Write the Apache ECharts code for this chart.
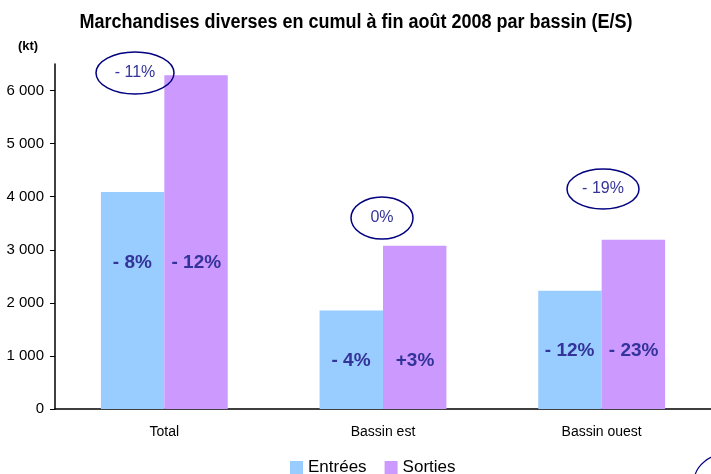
<!DOCTYPE html>
<html>
<head>
<meta charset="utf-8">
<script src="https://cdn.jsdelivr.net/npm/echarts@6/dist/echarts.min.js"></script>
<style>
  html, body { margin: 0; padding: 0; background: #fff; }
  #main { width: 711px; height: 474px; }
</style>
</head>
<body>
<div id="main"></div>
<script>
const categories = ['Total', 'Bassin est', 'Bassin ouest']
const entrees = [4090, 1855, 2230]
const sorties = [6290, 3075, 3190]
const entreesEvol = ['- 8%', '- 4%', '- 12%']
const sortiesEvol = ['- 12%', '+3%', '- 23%']
const totalEvol = ['- 11%', '0%', '- 19%']
const yTicks = [0, 1000, 2000, 3000, 4000, 5000, 6000]

const fmt = v => String(v).replace(/\B(?=(\d{3})+(?!\d))/g, ' ')

// positions des libellés dans les barres (en valeur d'axe)
const labelPos = [2750, 900, 1100]

const font = 'Liberation Sans, Arial, sans-serif'
const chart = echarts.init(document.getElementById('main'))

const option = {
  animation: false,
  textStyle: { fontFamily: font },
  legend: {
    top: 454,
    left: 285,
    itemWidth: 13,
    itemHeight: 13,
    itemGap: 18,
    icon: 'rect',
    textStyle: { fontSize: 17, color: '#000' },
    data: ['Entrées', 'Sorties']
  },
  grid: { left: 55, right: 0, top: 64, bottom: 65 },
  xAxis: {
    type: 'category',
    data: categories,
    axisLine: { lineStyle: { color: '#000', width: 1.5 } },
    axisTick: { show: false },
    axisLabel: { fontSize: 14, color: '#000', margin: 16 }
  },
  yAxis: {
    type: 'value',
    min: 0,
    max: 6500,
    interval: 1000,
    axisLine: { show: true, lineStyle: { color: '#000', width: 1.5 } },
    axisTick: { show: true, length: 5, customValues: yTicks, lineStyle: { color: '#000' } },
    axisLabel: { fontSize: 15, color: '#000', margin: 11, customValues: yTicks, formatter: fmt },
    splitLine: { show: false }
  },
  series: [
    {
      name: 'Entrées',
      type: 'bar',
      data: entrees,
      barGap: 0,
      barCategoryGap: '42%',
      itemStyle: { color: '#99CCFF' }
    },
    {
      name: 'Sorties',
      type: 'bar',
      data: sorties,
      itemStyle: { color: '#CC99FF' }
    }
  ]
}

chart.setOption(option)

// titre, unité, libellés dans les barres et ellipses
function drawNotes() {
  const g = []
  g.push({
    type: 'text', x: 356, y: 22, scaleX: 0.9,
    style: { text: 'Marchandises diverses en cumul à fin août 2008 par bassin (E/S)', fontSize: 20, fontWeight: 'bold', fill: '#000', align: 'center', verticalAlign: 'middle', fontFamily: font }
  })
  g.push({
    type: 'text', x: 28, y: 46,
    style: { text: '(kt)', fontSize: 13, fontWeight: 'bold', fill: '#000', align: 'center', verticalAlign: 'middle', fontFamily: font }
  })
  const half = 32
  categories.forEach((c, i) => {
    const cx = chart.convertToPixel({ xAxisIndex: 0 }, c)
    const ly = chart.convertToPixel({ yAxisIndex: 0 }, labelPos[i])
    const txt = { fontSize: 19, fontWeight: 'bold', fill: '#333399', align: 'center', verticalAlign: 'middle', fontFamily: font }
    g.push({ type: 'text', x: cx - half, y: ly, style: Object.assign({ text: entreesEvol[i] }, txt), z: 10 })
    g.push({ type: 'text', x: cx + half, y: ly, style: Object.assign({ text: sortiesEvol[i] }, txt), z: 10 })
  })
  const ell = [
    { x: 135, y: 73, rx: 39, ry: 21 },
    { x: 382, y: 218, rx: 31, ry: 21 },
    { x: 603, y: 189, rx: 36, ry: 20 }
  ]
  ell.forEach((e, i) => {
    g.push({ type: 'ellipse', shape: { cx: e.x, cy: e.y, rx: e.rx, ry: e.ry }, style: { fill: 'rgba(0,0,0,0)', stroke: '#000080', lineWidth: 1.5 }, z: 10 })
    g.push({ type: 'text', x: e.x, y: e.y, style: { text: totalEvol[i], fontSize: 16, fill: '#333399', align: 'center', verticalAlign: 'middle', fontFamily: font }, z: 10 })
  })
  g.push({ type: 'ellipse', shape: { cx: 730, cy: 482, rx: 36, ry: 29 }, style: { fill: 'rgba(0,0,0,0)', stroke: '#000080', lineWidth: 1.2 }, z: 10 })
  chart.setOption({ graphic: g })
}
drawNotes()
</script>
</body>
</html>
